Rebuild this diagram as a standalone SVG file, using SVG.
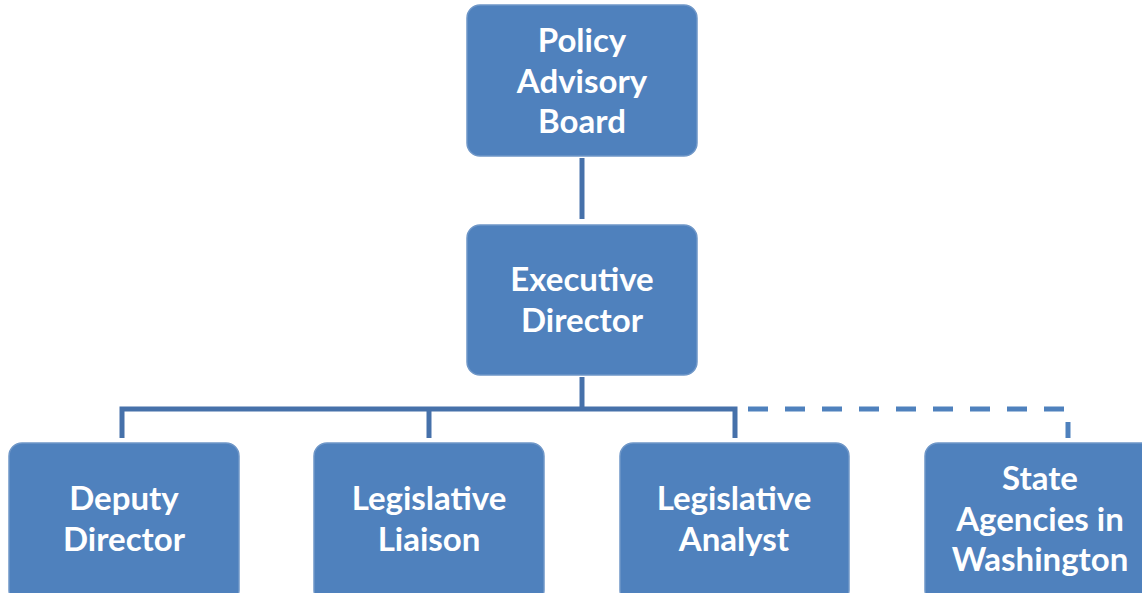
<svg xmlns="http://www.w3.org/2000/svg" width="1142" height="593" viewBox="0 0 1142 593">
<style>
.box{fill:#4f81bd;stroke:#6f97c8;stroke-width:1.5}
.t{font-family:Lato,"Open Sans",sans-serif;font-weight:bold;font-size:33px;fill:#fff;text-anchor:middle}
.c{stroke:#4671aa;stroke-width:5;fill:none}
.d{stroke:#4f81bd;stroke-width:5;fill:none;stroke-dasharray:20 17}
</style>
<rect width="1142" height="593" fill="#fff"/>
<g id="connectors">
<line class="c" x1="582" y1="158" x2="582" y2="219"/>
<line class="c" x1="582" y1="377" x2="582" y2="409"/>
<polyline class="c" points="122,438 122,409 735,409 735,438"/>
<line class="c" x1="429" y1="409" x2="429" y2="438"/>
<polyline class="d" points="748,409 1068,409 1068,438"/>
</g>
<g id="policy"><rect class="box" x="467" y="5" width="230" height="151" rx="13"/>
<text class="t" x="582" y="52">Policy</text><text class="t" x="582" y="93">Advisory</text><text class="t" x="582" y="133">Board</text></g>
<g id="exec"><rect class="box" x="467" y="225" width="230" height="150" rx="13"/>
<text class="t" x="582" y="291">Executive</text><text class="t" x="582" y="332">Director</text></g>
<g id="deputy"><rect class="box" x="9" y="443" width="230" height="160" rx="13"/>
<text class="t" x="124" y="510">Deputy</text><text class="t" x="124" y="551">Director</text></g>
<g id="liaison"><rect class="box" x="314" y="443" width="230" height="160" rx="13"/>
<text class="t" x="429" y="510">Legislative</text><text class="t" x="429" y="551">Liaison</text></g>
<g id="analyst"><rect class="box" x="620" y="443" width="229" height="160" rx="13"/>
<text class="t" x="734" y="510">Legislative</text><text class="t" x="734" y="551">Analyst</text></g>
<g id="state"><rect class="box" x="925" y="443" width="230" height="160" rx="13"/>
<text class="t" x="1040" y="490">State</text><text class="t" x="1040" y="531">Agencies in</text><text class="t" x="1040" y="571">Washington</text></g>
</svg>
